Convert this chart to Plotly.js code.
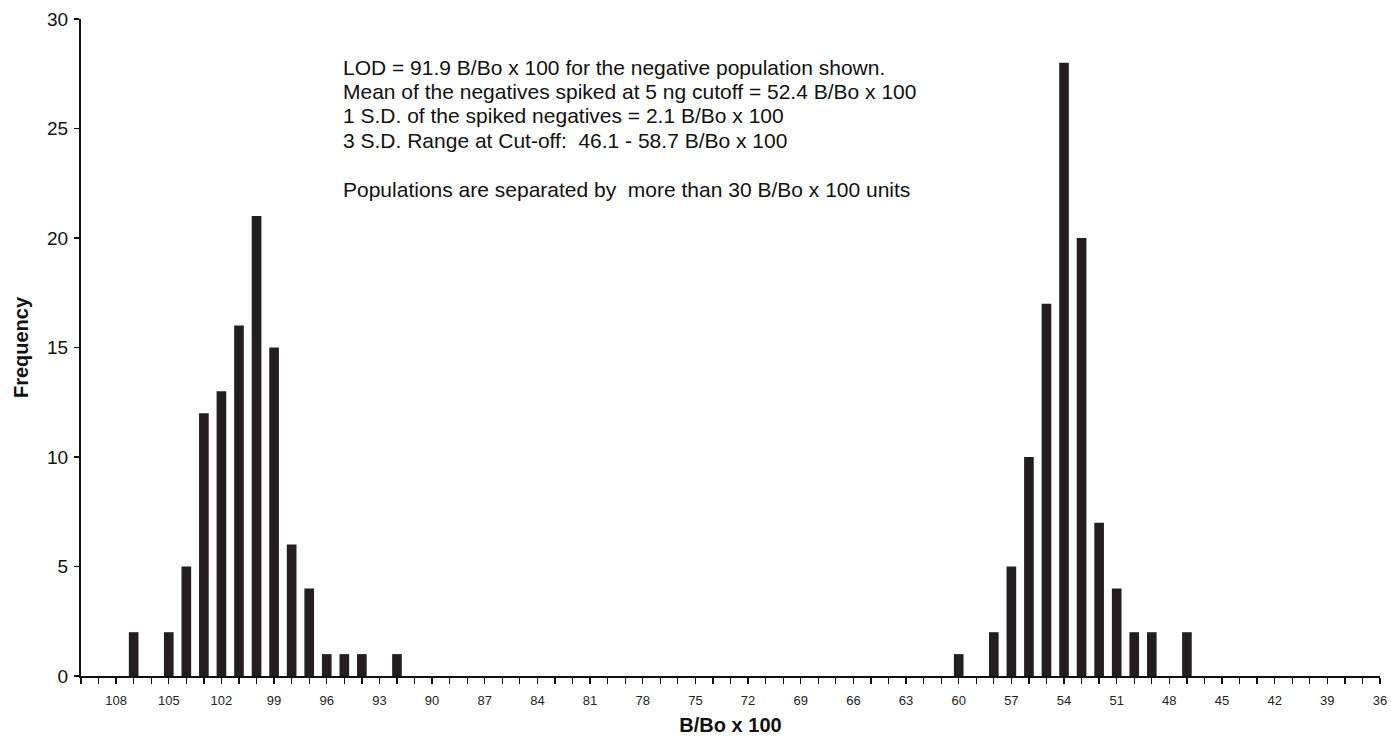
<!DOCTYPE html>
<html>
<head>
<meta charset="utf-8">
<script src="https://cdn.plot.ly/plotly-3.0.1.min.js"></script>
<style>html,body{margin:0;padding:0;background:#fff;}#chart{width:1391px;height:739px;}</style>
</head>
<body>
<div id="chart"></div>
<script>
// B/Bo x 100 bins (category axis, descending)
const bins = [110,109,108,107,106,105,104,103,102,101,100,99,98,97,96,95,94,93,92,91,
  90,89,88,87,86,85,84,83,82,81,80,79,78,77,76,75,74,73,72,71,
  70,69,68,67,66,65,64,63,62,61,60,59,58,57,56,55,54,53,52,51,
  50,49,48,47,46,45,44,43,42,41,40,39,38,37,36];
// Frequency for each bin
const frequency = [0,0,0,2,0,2,5,12,13,16,21,15,6,4,1,1,1,0,1,0,
  0,0,0,0,0,0,0,0,0,0,0,0,0,0,0,0,0,0,0,0,
  0,0,0,0,0,0,0,0,0,0,1,0,2,5,10,17,28,20,7,4,
  2,2,0,2,0,0,0,0,0,0,0,0,0,0,0];
// tick labels shown every 3 bins
const tickLabels = bins.map(b => (b % 3 === 0 ? String(b) : ''));
const yTicks = [0,5,10,15,20,25,30];

const notes = [
  'LOD = 91.9 B/Bo x 100 for the negative population shown.',
  'Mean of the negatives spiked at 5 ng cutoff = 52.4 B/Bo x 100',
  '1 S.D. of the spiked negatives = 2.1 B/Bo x 100',
  '3 S.D. Range at Cut-off: &nbsp;46.1 - 58.7 B/Bo x 100',
  '',
  'Populations are separated by &nbsp;more than 30 B/Bo x 100 units'
];

const font = 'Liberation Sans, Arial, sans-serif';
const L = 81, R = 11, T = 19, B = 63;
const plotH = 739 - T - B, plotW = 1391 - L - R;

const annotations = [];
notes.forEach((t, i) => {
  if (!t) return;
  const ypx = 67 + i * 24.4; // centre of line in px
  annotations.push({
    xref: 'paper', yref: 'paper',
    x: (341 - L) / plotW, y: 1 - (ypx - T) / plotH,
    xanchor: 'left', yanchor: 'middle',
    text: t, showarrow: false,
    font: {family: font, size: 21, color: '#111'}
  });
});

const trace = {
  type: 'bar',
  x: bins,
  y: frequency,
  width: 0.55,
  marker: {color: '#231f20', line: {width: 0}},
  hoverinfo: 'x+y'
};

const layout = {
  width: 1391, height: 739,
  margin: {l: L, r: R, t: T, b: B},
  paper_bgcolor: '#fff', plot_bgcolor: '#fff',
  showlegend: false,
  font: {family: font, color: '#111'},
  xaxis: {
    range: [110, 36],
    tickmode: 'array', tickvals: bins, ticktext: tickLabels,
    ticks: 'outside', ticklen: 6, tickwidth: 1.3, tickcolor: '#111',
    showline: true, linecolor: '#111', linewidth: 2,
    showgrid: false, zeroline: false,
    tickfont: {family: font, size: 13, color: '#222'},
    ticklabelstandoff: 5,
    title: {text: '<b>B/Bo x 100</b>', font: {family: font, size: 20, color: '#111'}, standoff: 11}
  },
  yaxis: {
    range: [0, 30],
    tickmode: 'array', tickvals: yTicks,
    ticks: 'outside', ticklen: 5, tickwidth: 1.3, tickcolor: '#111',
    showline: true, linecolor: '#111', linewidth: 2,
    showgrid: false, zeroline: false,
    tickfont: {family: font, size: 19, color: '#111'},
    ticklabelstandoff: 2,
    title: {text: '<b>Frequency</b>', font: {family: font, size: 20, color: '#111'}, standoff: 13}
  },
  annotations: annotations
};

Plotly.newPlot('chart', [trace], layout, {staticPlot: true, displayModeBar: false});
</script>
</body>
</html>
